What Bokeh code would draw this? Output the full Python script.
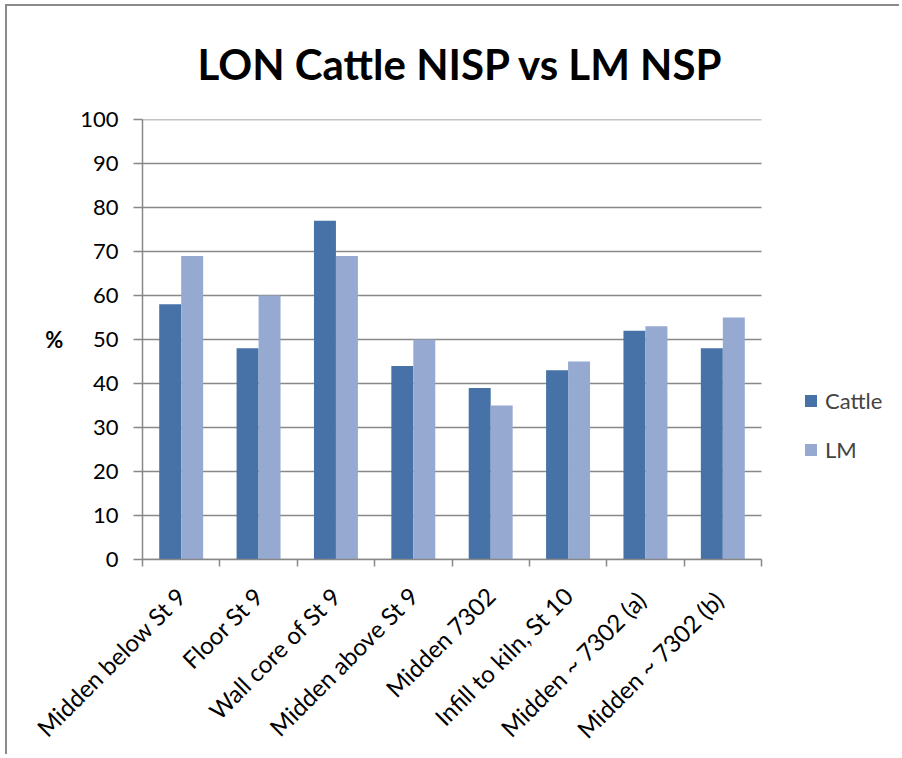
import math
from bokeh.plotting import figure
from bokeh.models import (Range1d, LinearAxis, FixedTicker,
                          Legend, LegendItem, ColumnDataSource)
from bokeh.transform import dodge
from bokeh.embed import file_html
from bokeh.resources import INLINE

# ---- data ----
categories = ["Midden below St 9", "Floor St 9", "Wall core of St 9", "Midden above St 9",
              "Midden 7302", "Infill to kiln, St 10", "Midden  ~ 7302 (a)", "Midden  ~ 7302 (b)"]
cattle = [58, 48, 77, 44, 39, 43, 52, 48]
lm = [69, 60, 69, 50, 35, 45, 53, 55]
y_ticks = [0, 10, 20, 30, 40, 50, 60, 70, 80, 90, 100]
series_names = ["Cattle", "LM"]
title_text = "LON Cattle NISP vs LM NSP"
y_label = "%"

# ---- style ----
FONT = "Lato"
GRID = "#888888"
C_CATTLE = "#4672A8"
C_LM = "#95A9D1"

n = len(categories)
centers = [i + 0.5 for i in range(n)]
bounds = list(range(n + 1))

W, H = 894, 750
ML, MT, MB = 135, 113, 193
PLOT_W = 619                 # pixel width of the bar area
FRAME_W = W - ML             # frame reaches the right edge (room for legend)
x_end = n * FRAME_W / PLOT_W

p = figure(width=W, height=H,
           x_range=Range1d(0, x_end), y_range=Range1d(0, 100),
           output_backend="svg", toolbar_location=None,
           x_axis_location=None, y_axis_location="left",
           min_border_left=ML, min_border_right=0,
           min_border_top=MT, min_border_bottom=MB)
p.styles = {"border-top": "2px solid #8a8a8a", "border-left": "2px solid #8a8a8a",
            "margin-left": "5px", "margin-top": "4px"}
p.outline_line_color = None
p.background_fill_color = "white"
p.border_fill_color = "white"
p.xgrid.grid_line_color = None
p.ygrid.grid_line_color = None

# title
p.title.text = title_text
p.title.align = "left"
p.title.offset = 55
p.title.text_font = FONT
p.title.text_font_size = "42px"
p.title.text_font_style = "bold"
p.title.text_color = "black"
p.title.standoff = 61

# y axis
yax = p.yaxis[0]
yax.ticker = FixedTicker(ticks=y_ticks)
yax.major_tick_out = 9
yax.major_tick_in = 0
yax.minor_tick_line_color = None
yax.axis_line_color = GRID
yax.axis_line_width = 1.5
yax.major_tick_line_color = GRID
yax.major_tick_line_width = 1.5
yax.major_label_text_font = FONT
yax.major_label_text_font_size = "22px"
yax.major_label_text_color = "black"
yax.major_label_standoff = 15
yax.axis_label = y_label
yax.axis_label_text_font = FONT
yax.axis_label_text_font_size = "22px"
yax.axis_label_text_font_style = "bold"
yax.axis_label_text_color = "black"
yax.axis_label_standoff = 14
if "axis_label_orientation" in type(yax).properties():
    yax.axis_label_orientation = "horizontal"

# horizontal gridlines across the bar area only
p.segment(x0=0, x1=n, y0=y_ticks, y1=y_ticks, line_color=GRID, line_width=1.5,
          level="underlay")

# x axis: labels at category centres, boundary ticks as minor ticks
xax = LinearAxis(ticker=FixedTicker(ticks=centers, minor_ticks=bounds),
                 bounds=(0, n),
                 major_label_overrides={c: name for c, name in zip(centers, categories)},
                 major_label_orientation=math.pi / 4,
                 axis_line_color=GRID, axis_line_width=1.5,
                 major_tick_line_color=None, major_tick_out=0, major_tick_in=0,
                 minor_tick_line_color=GRID, minor_tick_line_width=1.5,
                 minor_tick_out=7, minor_tick_in=0,
                 major_label_text_font=FONT, major_label_text_font_size="24px",
                 major_label_text_color="black", major_label_standoff=25)
p.add_layout(xax, "below")

# bars
src = ColumnDataSource(dict(pos=centers, cat=categories, cattle=cattle, lm=lm))
r1 = p.vbar(x=dodge("pos", -0.142), top="cattle", width=0.284,
            source=src, fill_color=C_CATTLE, line_color=None)
r2 = p.vbar(x=dodge("pos", 0.142), top="lm", width=0.284,
            source=src, fill_color=C_LM, line_color=None)

legend = Legend(items=[LegendItem(label=series_names[0], renderers=[r1]),
                       LegendItem(label=series_names[1], renderers=[r2])],
                location=(661, 96), orientation="vertical",
                border_line_color=None, background_fill_alpha=0,
                label_text_font=FONT, label_text_font_size="22px",
                glyph_width=15, glyph_height=15, label_height=25,
                spacing=22, padding=0, margin=0, label_standoff=7)
p.add_layout(legend, "center")

open("out.html", "w").write(file_html(p, INLINE))
